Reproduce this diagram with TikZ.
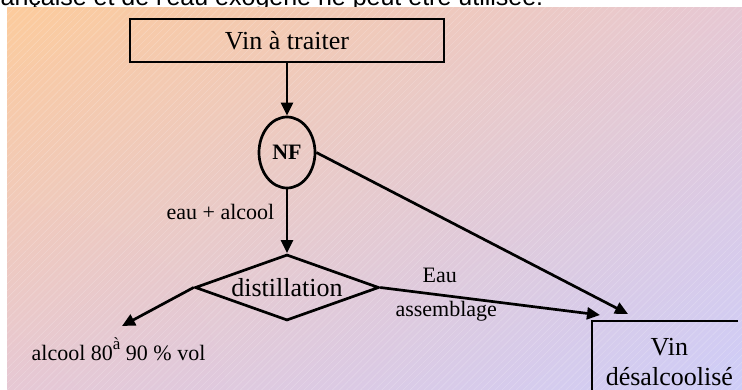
\documentclass[tikz,border=0pt]{standalone}
\usepackage{fontspec}
\setmainfont{Liberation Serif}
\newfontfamily\arialfont{Liberation Sans}
\usetikzlibrary{shapes.geometric, arrows.meta, patterns.meta, shadings}
\definecolor{peach}{RGB}{252,203,156}
\definecolor{rose}{RGB}{230,200,212}
\definecolor{lilac}{RGB}{206,205,248}

\begin{document}
\begin{tikzpicture}[x=1pt, y=-1pt, node distance={112pt}, line width=2.7pt, >={Triangle[length=13pt, width=12pt]},
    box/.style = {draw, rectangle, minimum width=314pt, minimum height=43pt, font=\fontsize{26}{30}\selectfont},
    ell/.style = {draw, ellipse, minimum width=56pt, minimum height=71pt, inner sep=0pt, font=\bfseries\fontsize{22}{26}\selectfont},
    dia/.style = {draw, diamond, aspect=2.8, minimum width=184pt, minimum height=66pt, inner sep=0pt, font=\fontsize{26}{30}\selectfont},
    lbl/.style = {font=\fontsize{22}{26}\selectfont}]

        \useasboundingbox (0,0) rectangle (742,390);
        % texte du haut, coupe par le cadre
        \node[anchor=base west, inner sep=0pt, font=\arialfont\fontsize{25}{28}\selectfont] (0) at (-16,6) {française et de l'eau exogène ne peut être utilisée.};
        \shade[upper left=peach, upper right=rose, lower left=rose, lower right=lilac] (7,8) rectangle (742,390);
        \fill[pattern={Lines[angle=45, distance=5pt, line width=0.6pt]}, pattern color=white, opacity=0.2] (7,8) rectangle (742,390);

        \node[box] (1) at (287,40.5) {Vin à traiter};
        \node[ell] (2) [below of=1] {NF};
        \node[dia] (3) [below of=2, node distance=135pt] {distillation};
        \node[lbl, anchor=base west] (4) at (27,360) {alcool 80\raisebox{11pt}{\fontsize{17}{17}\selectfont à} 90 \% vol};
        \node[align=center, minimum width=152pt, minimum height=80pt, anchor=north west, font=\fontsize{26}{30}\selectfont] (5) at (592,321) {Vin\\désalcoolisé};
        \coordinate (6) at (122,326);
        \coordinate (7) at (600,315);
        \coordinate (8) at (628,314);

        \draw[->] (1) -- (2);
        \draw[->] (2) -- node[lbl, pos=0.35, left=8pt] {eau + alcool} (3);
        \draw[->] (2.east) -- (8);
        \draw[->] (3.west) -- (6);
        \draw[->] (3.east) -- node[lbl, pos=0.27, above=8pt] {Eau} node[lbl, pos=0.3, below=1pt] {assemblage} (7);
        \draw (5.south west) |- ([xshift=-9pt]5.north east);

    \end{tikzpicture}
\end{document}
